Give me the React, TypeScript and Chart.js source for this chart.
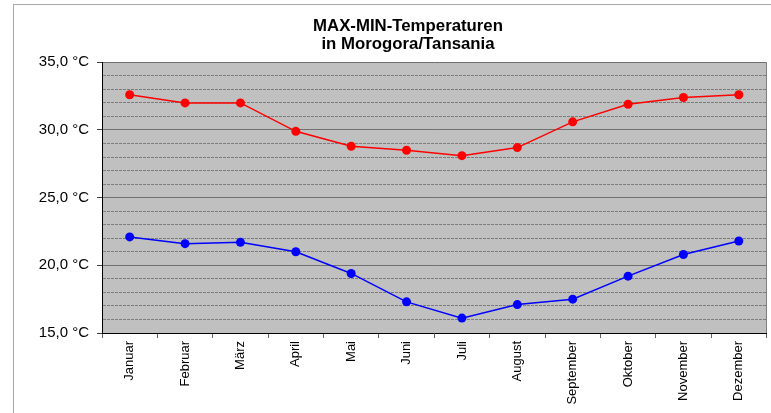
import React, { useEffect, useRef } from "react";
import { Chart, registerables } from "chart.js";

Chart.register(...registerables);

const months = [
  "Januar", "Februar", "März", "April", "Mai", "Juni",
  "Juli", "August", "September", "Oktober", "November", "Dezember",
];
const maxTemps = [32.6, 32.0, 32.0, 29.9, 28.8, 28.5, 28.1, 28.7, 30.6, 31.9, 32.4, 32.6];
const minTemps = [22.1, 21.6, 21.7, 21.0, 19.4, 17.3, 16.1, 17.1, 17.5, 19.2, 20.8, 21.8];
const titleLines = ["MAX-MIN-Temperaturen", "in Morogora/Tansania"];
const yMin = 15;
const yMax = 35;
const yMajorStep = 5;

const FONT = "'Liberation Sans', Arial, Helvetica, sans-serif";

const framePlugin = {
  id: "frame",
  afterLayout(chart: any) {
    // Excel centres the title over a slightly narrower band than the full canvas
    const t = chart.titleBlock;
    if (t) {
      const shift = 33;
      t.left = t.left + shift;
      t.width = t.right - t.left;
    }
  },
  beforeDraw(chart: any) {
    const { ctx, chartArea } = chart;
    ctx.save();
    ctx.fillStyle = "#ffffff";
    ctx.fillRect(0, 0, chart.width, chart.height);
    ctx.strokeStyle = "#a8a8a8";
    ctx.lineWidth = 1;
    ctx.strokeRect(13.5, 4.5, chart.width + 20, chart.height + 20);
    ctx.fillStyle = "#c0c0c0";
    ctx.fillRect(chartArea.left, chartArea.top, chartArea.right - chartArea.left, chartArea.bottom - chartArea.top);
    ctx.restore();
  },
  beforeDatasetsDraw(chart: any) {
    const { ctx, chartArea } = chart;
    ctx.save();
    ctx.strokeStyle = "#808080";
    ctx.lineWidth = 1;
    ctx.beginPath();
    ctx.moveTo(Math.round(chartArea.right) - 0.5, chartArea.top);
    ctx.lineTo(Math.round(chartArea.right) - 0.5, chartArea.bottom);
    ctx.stroke();
    ctx.restore();
  },
};

export default function App() {
  const ref = useRef<HTMLCanvasElement | null>(null);

  useEffect(() => {
    if (!ref.current) return;
    const chart = new Chart(ref.current, {
      type: "line",
      data: {
        labels: months,
        datasets: [
          {
            label: "Max",
            data: maxTemps,
            borderColor: "#ff0000",
            backgroundColor: "#ff0000",
            borderWidth: 1.5,
            pointRadius: 4.5,
            pointBorderWidth: 0,
            tension: 0,
          },
          {
            label: "Min",
            data: minTemps,
            borderColor: "#0000ff",
            backgroundColor: "#0000ff",
            borderWidth: 1.5,
            pointRadius: 4.5,
            pointBorderWidth: 0,
            tension: 0,
          },
        ],
      },
      options: {
        responsive: false,
        animation: false,
        devicePixelRatio: 1,
        layout: { padding: { left: 14, right: 2, top: 0, bottom: 0 } },
        plugins: {
          legend: { display: false },
          tooltip: { enabled: false },
          title: {
            display: true,
            text: titleLines,
            color: "#000000",
            font: { family: FONT, size: 16.8, weight: "bold", lineHeight: 1.08 },
            padding: { top: 17, bottom: 9 },
          },
        },
        scales: {
          x: {
            type: "category",
            offset: true,
            grid: {
              offset: true,
              drawOnChartArea: false,
              drawTicks: true,
              tickLength: 5,
              tickColor: "#606060",
            },
            border: { display: true, color: "#000000", width: 1 },
            ticks: {
              color: "#000000",
              font: { family: FONT, size: 13 },
              maxRotation: 90,
              minRotation: 90,
              padding: 3,
              autoSkip: false,
            },
            afterFit(scale: any) {
              scale.height = 80;
            },
          },
          y: {
            min: yMin,
            max: yMax,
            grid: {
              drawTicks: true,
              tickLength: 5,
              color: (c: any) => {
                const v = c.tick ? c.tick.value : 0;
                if (v === yMin) return "rgba(0,0,0,0)";
                return v % yMajorStep === 0 ? "#707070" : "#7c7c7c";
              },
              tickColor: (c: any) => {
                const v = c.tick ? c.tick.value : 1;
                return v % yMajorStep === 0 ? "#404040" : "rgba(0,0,0,0)";
              },
            },
            border: {
              display: true,
              color: "#000000",
              width: 1,
              dash: (c: any) => {
                if (!c.tick) return [];
                return c.tick.value % yMajorStep === 0 ? [] : [3, 1];
              },
            },
            ticks: {
              stepSize: 1,
              autoSkip: false,
              color: "#000000",
              font: { family: FONT, size: 15 },
              padding: 8,
              callback: (value: any) => {
                const v = Number(value);
                if (v % yMajorStep !== 0) return "";
                return v.toFixed(1).replace(".", ",") + " °C";
              },
            },
            afterFit(scale: any) {
              scale.width = 88;
            },
          },
        },
      } as any,
      plugins: [framePlugin],
    });
    return () => chart.destroy();
  }, []);

  return (
    <div style={{ position: "fixed", left: 0, top: 0, width: 771, height: 413, background: "#fff" }}>
      <canvas ref={ref} width={771} height={413} style={{ width: 771, height: 413, display: "block" }} />
    </div>
  );
}
